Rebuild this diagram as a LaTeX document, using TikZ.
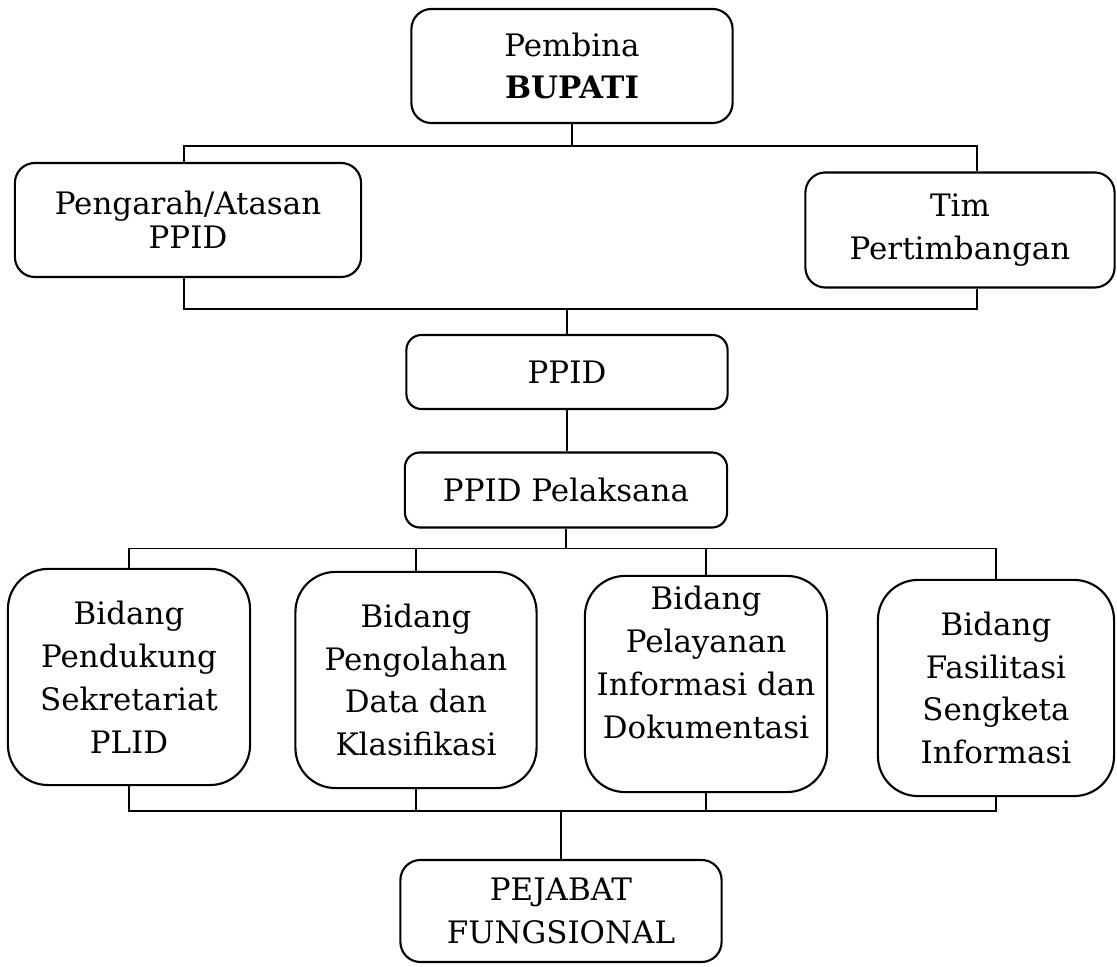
\documentclass[tikz,border=0pt]{standalone}
\usepackage{fontspec}
\setmainfont{DejaVu Serif}

\begin{document}
\begin{tikzpicture}[x=0.01cm,y=-0.01cm,
      box/.style={draw,line width=0.6pt,rounded corners=2mm,align=center,
        inner sep=0pt,font=\fontsize{8.8}{12.2}\selectfont},
      bidang/.style={box,rounded corners=4mm,minimum height=2.16cm},
      link/.style={line width=0.45pt}]
      \useasboundingbox (0,0) rectangle (1117,967);
      % atas
      \node[box,minimum width=3.21cm,minimum height=1.14cm] (bupati) at (572,66) {Pembina\\\textbf{BUPATI}};
      \node[box,minimum width=3.46cm,minimum height=1.14cm,font=\fontsize{8.8}{9.8}\selectfont] (pengarah) at (188,220) {Pengarah/Atasan\\PPID};
      \node[box,minimum width=3.09cm,minimum height=1.15cm] (tim) at (960,230) {Tim\\Pertimbangan};
      \node[box,rounded corners=1.5mm,minimum width=3.21cm,minimum height=0.74cm] (ppid) at (567,372) {PPID};
      \node[box,rounded corners=1.5mm,minimum width=3.22cm,minimum height=0.75cm] (pelaksana) at (566,490) {PPID Pelaksana};
      % bidang
      \node[bidang,minimum width=2.42cm] (b1) at (129,677) {Bidang\\Pendukung\\Sekretariat\\PLID};
      \node[bidang,minimum width=2.41cm] (b2) at (416,680) {Bidang\\Pengolahan\\Data dan\\Klasifikasi};
      \node[bidang,minimum width=2.42cm] (b3) at (706,684) {Bidang\\Pelayanan\\Informasi dan\\Dokumentasi\\\mbox{}};
      \node[bidang,minimum width=2.36cm] (b4) at (996,688) {Bidang\\Fasilitasi\\Sengketa\\Informasi};
      \node[box,minimum width=3.21cm,minimum height=1.02cm] (pejabat) at (561,911) {PEJABAT\\FUNGSIONAL};
      % garis
      \path (bupati.south) ++(0,22) coordinate (bus1);
      \draw[link] (bupati.south) -- (bus1);
      \draw[link] ([xshift=-0.04cm]pengarah.north) |- (bus1) -| ([xshift=0.17cm]tim.north);
      \path (ppid.north) ++(0,-25) coordinate (bus2);
      \draw[link] (ppid.north) -- (bus2);
      \draw[link] ([xshift=-0.04cm]pengarah.south) |- (bus2) -| ([xshift=0.17cm]tim.south);
      \draw[link] (ppid.south) -- (ppid.south |- pelaksana.north);
      \path (pelaksana.south) ++(0,20) coordinate (bus3);
      \draw[link] (pelaksana.south) -- (bus3);
      \draw[link] (b1.north) |- (bus3) -| (b4.north);
      \draw[link] (b2.north) -- (b2.north |- bus3);
      \draw[link] (b3.north) -- (b3.north |- bus3);
      \path (pejabat.north) ++(0,-48) coordinate (bus4);
      \draw[link] (pejabat.north) -- (bus4);
      \draw[link] (b1.south) |- (bus4) -| (b4.south);
      \draw[link] (b2.south) -- (b2.south |- bus4);
      \draw[link] (b3.south) -- (b3.south |- bus4);
\end{tikzpicture}
\end{document}
